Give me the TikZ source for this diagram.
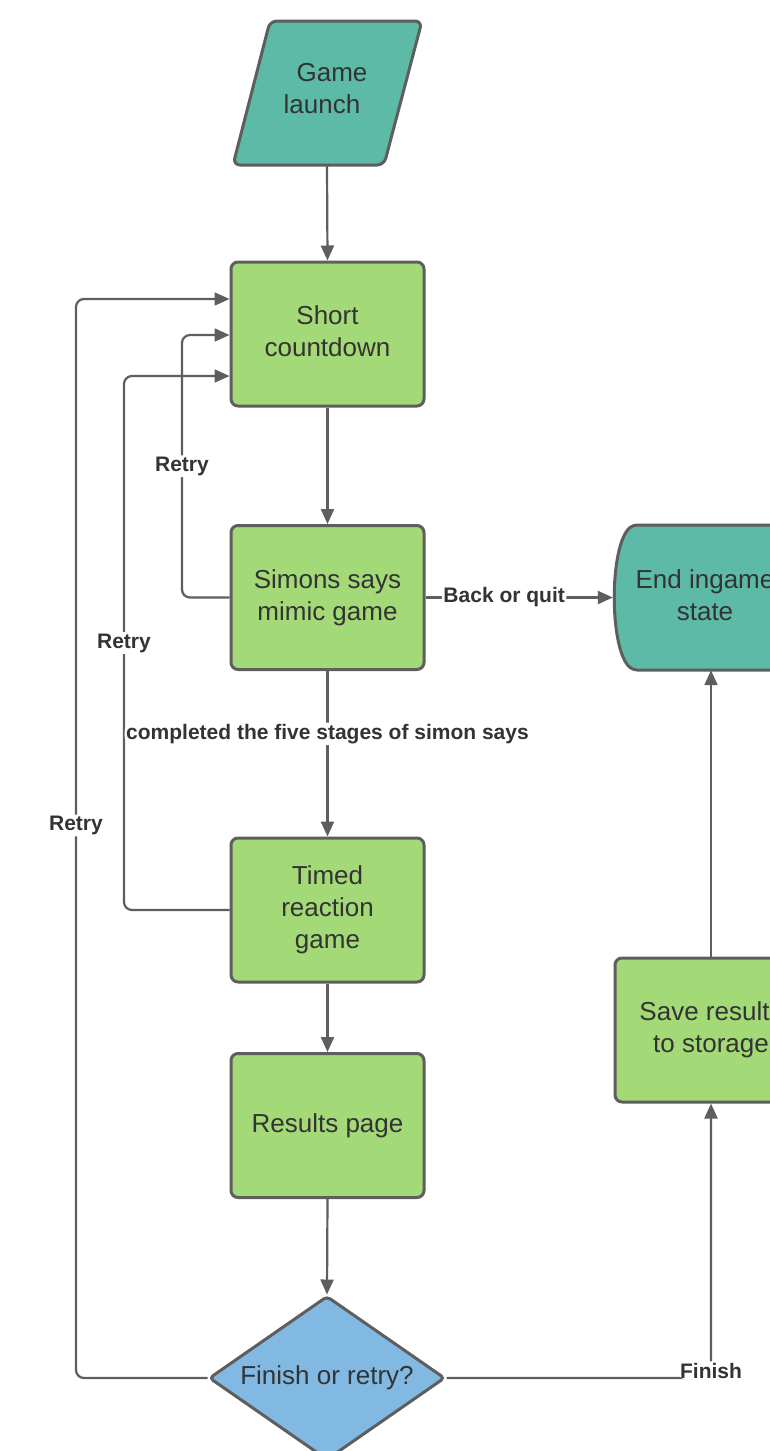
\documentclass[tikz,border=0pt]{standalone}
\usepackage{fontspec}
\setmainfont{Liberation Sans}
\usetikzlibrary{arrows.meta,shapes.geometric}
\definecolor{tealfill}{HTML}{5CBAA6}
\definecolor{greenfill}{HTML}{A3D977}
\definecolor{bluefill}{HTML}{82B9E3}
\definecolor{edgecol}{HTML}{5E5E5E}
\definecolor{txtcol}{HTML}{333333}
\begin{document}
\begin{tikzpicture}[x=1pt,y=-1pt,
  box/.style={draw=edgecol, line width=3pt, fill=greenfill, rounded corners=7pt,
    minimum width=193pt, minimum height=144pt, inner sep=0pt, align=center,
    text=txtcol, font=\fontsize{26}{32}\selectfont},
  plain/.style={inner sep=0pt, align=center, text=txtcol, font=\fontsize{26}{32}\selectfont},
  conn/.style={draw=edgecol, line width=2.2pt, rounded corners=8pt,
    -{Triangle[length=15pt,width=13pt]}},
  lbl/.style={fill=white, inner sep=1.5pt, text=txtcol,
    font=\bfseries\fontsize{21}{24}\selectfont}]
\useasboundingbox (0,0) rectangle (770,1451);
\clip (0,0) rectangle (770,1451);
\fill[white] (0,0) rectangle (770,1451);

% Game launch (parallelogram)
\filldraw[fill=tealfill, draw=edgecol, line width=3pt, rounded corners=7pt]
  (346,21) -- (422,21) -- (384,165) -- (233,165) -- (270,21) -- cycle;
\node[plain, minimum width=150pt, minimum height=144pt] (launch) at (327,93) {};
\node[plain] (launchtxt) at (322,89) {\hspace*{20pt}Game\\launch};

% End ingame state (curved left side)
\filldraw[fill=tealfill, draw=edgecol, line width=3pt, rounded corners=4pt]
  (720,525) -- (812,525) -- (812,670) -- (633,670)
  .. controls (609,650) and (609,545) .. (633,525) -- cycle;
\node[plain, minimum width=184pt, minimum height=145pt] (end) at (705,597.5) {};
\node[plain] (endtxt) at (705,595) {End ingame\\state};

% Process boxes
\node[box] (short) at (327.5,334) {};
\node[plain] (shorttxt) at (327.5,331) {Short\\countdown};
\node[box] (simons) at (327.5,597.5) {Simons says\\mimic game};
\node[box] (timed) at (327.5,910) {Timed\\reaction\\game};
\node[box] (results) at (327.5,1125.5) {Results page};
\node[box, minimum width=192pt] (save) at (711,1030) {Save results\\to storage};

% Decision
\node[diamond, draw=edgecol, line width=3pt, fill=bluefill, minimum width=236pt,
  minimum height=164pt, aspect=1.44, inner sep=0pt, rounded corners=4pt,
  text=txtcol, font=\fontsize{26}{32}\selectfont] (dec) at (327,1378) {Finish or retry?};

% Main flow
\draw[conn] (launch.south) -- (short.north);
\draw[conn] (short.south) -- (simons.north);
\draw[conn] (timed.south) -- (results.north);
\draw[conn] (results.south) -- (dec.north);

% Retry loops
\draw[conn] (simons.west) -- (182,597.5) -- node[lbl]{Retry} (182,335) -- (short.west |- 0,335);
\draw[conn] (timed.west) -- (124,910) -- node[lbl]{Retry} (124,376) -- ([yshift=-42pt]short.west);
\draw[conn] (dec.west) -- (76,1378) -- node[lbl, pos=0.512]{Retry} (76,299) -- ([yshift=35pt]short.west);

% Labelled flows
\draw[conn] (simons.south) -- node[lbl, pos=0.38]{completed the five stages of simon says} (timed.north);
\draw[conn] (simons.east) -- node[lbl, pos=0.42]{Back or quit} (end.west);
\draw[conn] (dec.east) -- (711,1378) node[lbl, anchor=base]{Finish} -- (save.south);
\draw[conn] (save.north) -- (save.north |- end.south);
\end{tikzpicture}
\end{document}
